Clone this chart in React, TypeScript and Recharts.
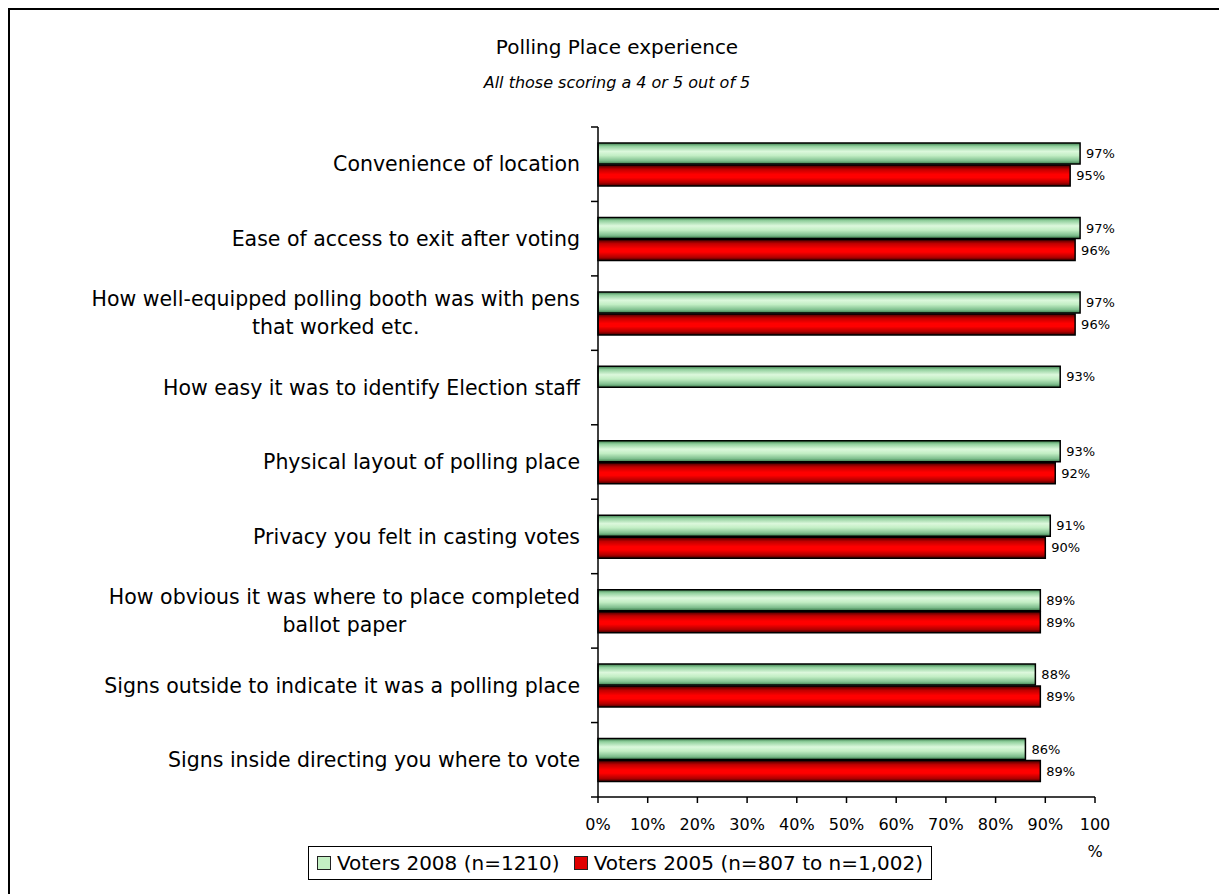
import { BarChart, Bar, XAxis, YAxis, Legend, LabelList } from "recharts";

// chart data
const categories = [
  "Convenience of location",
  "Ease of access to exit after voting",
  "How well-equipped polling booth was with pens\nthat worked etc.",
  "How easy it was to identify Election staff",
  "Physical layout of polling place",
  "Privacy you felt in casting votes",
  "How obvious it was where to place completed\nballot paper",
  "Signs outside to indicate it was a polling place",
  "Signs inside directing you where to vote",
];
const voters2008 = [97, 97, 97, 93, 93, 91, 89, 88, 86];
const voters2005 = [95, 96, 96, null, 92, 90, 89, 89, 89];
const xTicks = [0, 10, 20, 30, 40, 50, 60, 70, 80, 90, 100];
const seriesNames = ["Voters 2008 (n=1210)", "Voters 2005 (n=807 to n=1,002)"];
const title = "Polling Place experience";
const subtitle = "All those scoring a 4 or 5 out of 5";

const data = categories.map((name, i) => ({
  name,
  v2008: voters2008[i],
  v2005: voters2005[i],
}));

const FONT = "'DejaVu Sans', Verdana, sans-serif";
const PLOT_LEFT = 588;
const PLOT_TOP = 117;
const PLOT_H = 670;
const CAT_SIZE = 20.5;

let ctx: CanvasRenderingContext2D | null = null;
const measure = (s: string, font: string) => {
  if (!ctx) ctx = document.createElement("canvas").getContext("2d");
  if (!ctx) return s.length * 11;
  ctx.font = font;
  return ctx.measureText(s).width;
};

const CategoryTick = (props: any) => {
  const { y, payload, index } = props;
  const half = payload && payload.offset ? payload.offset : PLOT_H / categories.length / 2;
  const lines = String(payload.value).split("\n");
  const maxW = Math.max(...lines.map((l) => measure(l, `${CAT_SIZE}px 'DejaVu Sans'`)));
  const cx = PLOT_LEFT - 18 - maxW / 2;
  return (
    <g>
      <line x1={PLOT_LEFT - 7} x2={PLOT_LEFT} y1={y - half} y2={y - half} stroke="#000" strokeWidth={1.5} />
      {index === categories.length - 1 && (
        <line x1={PLOT_LEFT - 7} x2={PLOT_LEFT} y1={y + half} y2={y + half} stroke="#000" strokeWidth={1.5} />
      )}
      <text x={cx} y={y} textAnchor="middle" fontSize={CAT_SIZE} fontFamily={FONT} fill="#000">
        {lines.map((l, i) => (
          <tspan key={i} x={cx} y={y + (i - (lines.length - 1) / 2) * 28} dy="0.35em">
            {l}
          </tspan>
        ))}
      </text>
    </g>
  );
};

const PercentTick = (props: any) => {
  const { x, y, payload } = props;
  // the 100% label wraps onto two lines in the original
  const lines = payload.value === 100 ? ["100", "%"] : [`${payload.value}%`];
  return (
    <text x={x} y={y} textAnchor="middle" fontSize={16} fontFamily={FONT} fill="#000">
      {lines.map((l, i) => (
        <tspan key={i} x={x} y={y + 19 + i * 27} dy="0.35em">
          {l}
        </tspan>
      ))}
    </text>
  );
};

const LegendBox = () => (
  <div
    style={{
      boxSizing: "border-box",
      height: 34,
      width: 624,
      border: "1.5px solid #000",
      background: "#fff",
      display: "flex",
      alignItems: "center",
      justifyContent: "center",
      fontFamily: FONT,
      fontSize: 20,
      color: "#000",
      whiteSpace: "nowrap",
    }}
  >
    <span style={{ width: 12, height: 12, border: "1.5px solid #222", background: "#c4f0c4", marginRight: 6 }} />
    <span style={{ marginRight: 14 }}>{seriesNames[0]}</span>
    <span style={{ width: 12, height: 12, border: "1.5px solid #222", background: "#e00000", marginRight: 6 }} />
    <span>{seriesNames[1]}</span>
  </div>
);

const App = () => {
  return (
    <div
      style={{
        position: "relative",
        width: 1219,
        height: 886,
        boxSizing: "border-box",
        borderTop: "2px solid #000",
        borderLeft: "2px solid #000",
        overflow: "hidden",
        fontFamily: FONT,
      }}
    >
      <div style={{ position: "absolute", left: 307, top: 25, width: 600, textAlign: "center", fontSize: 20, lineHeight: "24px" }}>
        {title}
      </div>
      <div style={{ position: "absolute", left: 307, top: 63, width: 600, textAlign: "center", fontSize: 16, lineHeight: "20px", fontStyle: "italic" }}>
        {subtitle}
      </div>
      <BarChart
        width={1217}
        height={884}
        data={data}
        layout="vertical"
        margin={{ top: PLOT_TOP, right: 132, left: 0, bottom: 13 }}
        barGap={1}
      >
        <defs>
          <linearGradient id="g2008" x1="0" y1="0" x2="0" y2="1">
            <stop offset="0%" stopColor="#3a7a4a" />
            <stop offset="15%" stopColor="#90cf9c" />
            <stop offset="40%" stopColor="#dcf8dc" />
            <stop offset="60%" stopColor="#c2eec4" />
            <stop offset="85%" stopColor="#7fbf8e" />
            <stop offset="100%" stopColor="#3a7a4a" />
          </linearGradient>
          <linearGradient id="g2005" x1="0" y1="0" x2="0" y2="1">
            <stop offset="0%" stopColor="#400000" />
            <stop offset="20%" stopColor="#c00000" />
            <stop offset="45%" stopColor="#ff0000" />
            <stop offset="60%" stopColor="#ff0000" />
            <stop offset="85%" stopColor="#b00000" />
            <stop offset="100%" stopColor="#400000" />
          </linearGradient>
        </defs>
        <XAxis
          type="number"
          domain={[0, 100]}
          ticks={xTicks}
          interval={0}
          height={50}
          axisLine={{ stroke: "#000", strokeWidth: 1.5 }}
          tickLine={{ stroke: "#000", strokeWidth: 1.5 }}
          tickSize={6}
          tick={(p: any) => <PercentTick {...p} />}
        />
        <YAxis
          type="category"
          dataKey="name"
          width={PLOT_LEFT}
          interval={0}
          axisLine={{ stroke: "#000", strokeWidth: 1.5 }}
          tickLine={false}
          tick={(p: any) => <CategoryTick {...p} />}
        />
        <Legend
          verticalAlign="bottom"
          content={() => <LegendBox />}
          wrapperStyle={{ left: 298, top: 836, width: 624, height: 34 }}
        />
        <Bar
          dataKey="v2008"
          name={seriesNames[0]}
          fill="url(#g2008)"
          stroke="#000"
          strokeWidth={1.5}
          barSize={21}
          isAnimationActive={false}
        >
          <LabelList
            dataKey="v2008"
            position="right"
            offset={6}
            fontSize={13}
            fontFamily={FONT}
            fill="#000"
            formatter={(v: any) => (v == null ? "" : `${v}%`)}
          />
        </Bar>
        <Bar
          dataKey="v2005"
          name={seriesNames[1]}
          fill="url(#g2005)"
          stroke="#000"
          strokeWidth={1.5}
          barSize={21}
          isAnimationActive={false}
        >
          <LabelList
            dataKey="v2005"
            position="right"
            offset={6}
            fontSize={13}
            fontFamily={FONT}
            fill="#000"
            formatter={(v: any) => (v == null ? "" : `${v}%`)}
          />
        </Bar>
      </BarChart>
    </div>
  );
};

export default App;
